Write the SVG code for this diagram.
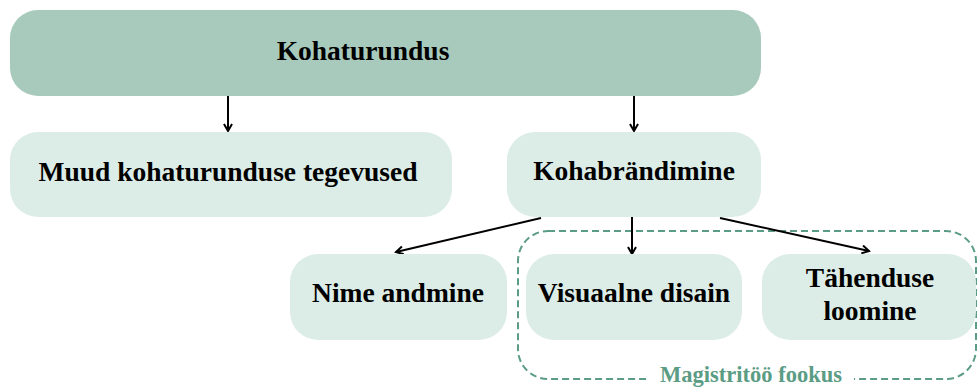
<svg xmlns="http://www.w3.org/2000/svg" width="978" height="387" viewBox="0 0 978 387">
  <style>
    .t { font-family: "Liberation Serif", "Times New Roman", serif; font-weight: bold; font-size: 27.5px; fill: #000; text-anchor: middle; }
    .dark { fill: #a8cabd; }
    .light { fill: #dcece6; }
    .conn { stroke: #000; stroke-width: 2; fill: none; marker-end: url(#ah); }
    .lbl { font-family: "Liberation Serif", "Times New Roman", serif; font-weight: bold; font-size: 22.5px; fill: #5b9c84; text-anchor: middle; }
  </style>
  <defs>
    <marker id="ah" markerWidth="12" markerHeight="12" refX="9" refY="5" orient="auto" markerUnits="userSpaceOnUse">
      <polyline points="2,1 9,5 2,9" fill="none" stroke="#000" stroke-width="2"/>
    </marker>
  </defs>
  <rect width="978" height="387" fill="#fff"/>

  <g id="focus">
    <rect x="518" y="231" width="458" height="148" rx="30" fill="none" stroke="#5b9c84" stroke-width="2" stroke-dasharray="7 4"/>
    <rect x="648" y="368" width="206" height="19" fill="#fff"/>
    <text class="lbl" x="751" y="382">Magistritöö fookus</text>
  </g>

  <g id="connectors">
    <line class="conn" x1="228" y1="96" x2="228" y2="131"/>
    <line class="conn" x1="634" y1="96" x2="634" y2="131"/>
    <line class="conn" x1="541" y1="218" x2="396" y2="252"/>
    <line class="conn" x1="632" y1="217" x2="632" y2="254"/>
    <line class="conn" x1="720" y1="218" x2="869" y2="251"/>
  </g>

  <g id="kohaturundus">
    <rect class="dark" x="10" y="10" width="751" height="86" rx="28"/>
    <text class="t" x="363" y="60">Kohaturundus</text>
  </g>
  <g id="muud">
    <rect class="light" x="10" y="132" width="442" height="85" rx="28"/>
    <text class="t" x="228" y="181">Muud kohaturunduse tegevused</text>
  </g>
  <g id="kohabrandimine">
    <rect class="light" x="507" y="132" width="254" height="85" rx="28"/>
    <text class="t" x="634" y="180">Kohabrändimine</text>
  </g>
  <g id="nime">
    <rect class="light" x="290" y="254" width="217" height="86" rx="28"/>
    <text class="t" x="398" y="302">Nime andmine</text>
  </g>
  <g id="visuaalne">
    <rect class="light" x="526" y="254" width="216" height="86" rx="28"/>
    <text class="t" x="634" y="302">Visuaalne disain</text>
  </g>
  <g id="tahenduse">
    <rect class="light" x="762" y="254" width="214" height="86" rx="28"/>
    <text class="t" x="870" y="287">Tähenduse</text>
    <text class="t" x="870" y="320">loomine</text>
  </g>
</svg>
